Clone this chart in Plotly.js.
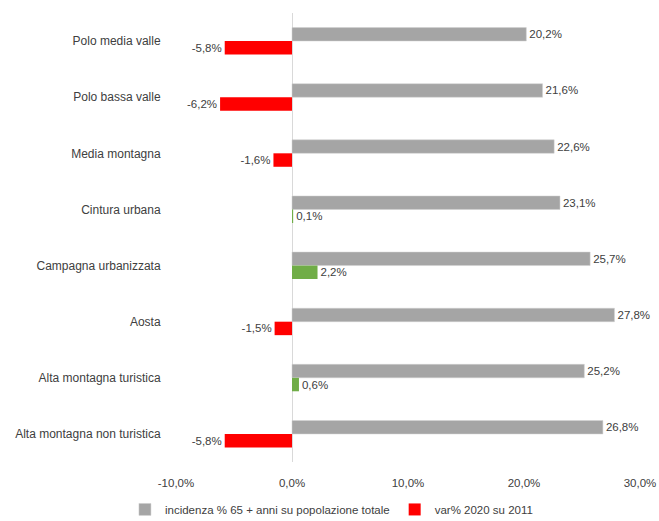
<!DOCTYPE html>
<html>
<head>
<meta charset="utf-8">
<script src="https://cdn.plot.ly/plotly-3.0.1.min.js"></script>
<style>html,body{margin:0;padding:0;background:#fff;}#chart{width:659px;height:521px;}</style>
</head>
<body>
<div id="chart"></div>
<script>
const categories = ["Polo media valle", "Polo bassa valle", "Media montagna", "Cintura urbana", "Campagna urbanizzata", "Aosta", "Alta montagna turistica", "Alta montagna non turistica"];
const incidenza = [20.2, 21.6, 22.6, 23.1, 25.7, 27.8, 25.2, 26.8];
const variazione = [-5.8, -6.2, -1.6, 0.1, 2.2, -1.5, 0.6, -5.8];
const seriesNames = ["incidenza % 65 + anni su popolazione totale", "var% 2020 su 2011"];
const tickVals = [-10, 0, 10, 20, 30];

const font = "Liberation Sans, Arial, sans-serif";
const fmt = v => v.toFixed(1).replace(".", ",") + "%";
const varColors = variazione.map(v => v < 0 ? "#ff0000" : "#70ad47");

const traces = [
  {
    type: "bar", orientation: "h", name: seriesNames[0],
    y: categories, x: incidenza,
    marker: {color: "#a5a5a5", line: {color: "#d0d0d0", width: 0.5}},
    text: incidenza.map(fmt), texttemplate: "%{text}", textposition: "outside",
    textfont: {family: font, size: 11.5, color: "#404040"},
    cliponaxis: false, hoverinfo: "skip"
  },
  {
    type: "bar", orientation: "h", name: seriesNames[1],
    y: categories, x: variazione,
    marker: {color: varColors},
    text: variazione.map(fmt), texttemplate: "%{text}", textposition: "outside",
    textfont: {family: font, size: 11.5, color: "#404040"},
    cliponaxis: false, hoverinfo: "skip"
  }
];

const layout = {
  width: 659, height: 521,
  margin: {l: 176, r: 19, t: 13, b: 59},
  paper_bgcolor: "#fff", plot_bgcolor: "#fff",
  separators: ",.",
  barmode: "group", bargap: 0.52, bargroupgap: 0,
  font: {family: font, size: 12, color: "#404040"},
  showlegend: true,
  legend: {orientation: "h", x: 0.335, xanchor: "center", xref: "paper",
           y: 0.05, yanchor: "top", yref: "container",
           font: {family: font, size: 11.5, color: "#404040"}, traceorder: "normal", itemwidth: 30},
  xaxis: {
    range: [-10, 30], tickvals: tickVals, ticktext: tickVals.map(fmt),
    showgrid: false, zeroline: true, zerolinecolor: "#d9d9d9", zerolinewidth: 1,
    showline: false, ticks: "outside", ticklen: 10, tickcolor: "rgba(0,0,0,0)",
    tickfont: {family: font, size: 11.5, color: "#404040"},
    fixedrange: true
  },
  yaxis: {
    type: "category", autorange: "reversed", showgrid: false, zeroline: false, showline: false,
    ticks: "outside", ticklen: 12, tickcolor: "rgba(0,0,0,0)",
    tickfont: {family: font, size: 12, color: "#404040"}, fixedrange: true
  }
};

Plotly.newPlot("chart", traces, layout, {displayModeBar: false, staticPlot: true});
</script>
</body>
</html>
